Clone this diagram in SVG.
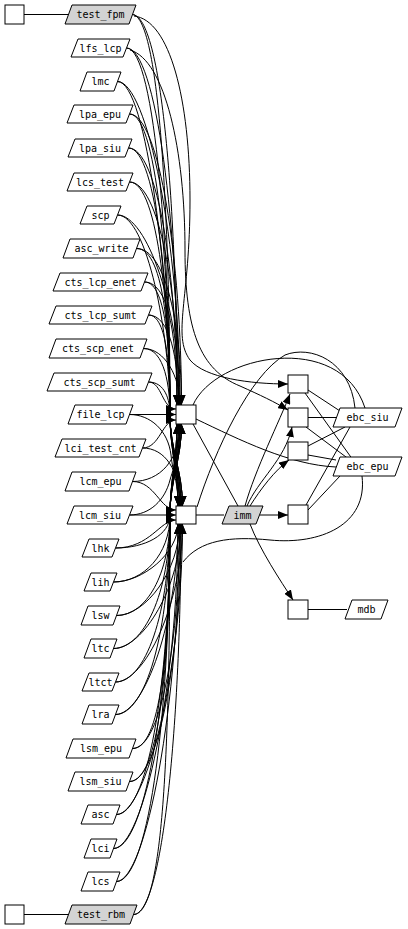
<svg xmlns="http://www.w3.org/2000/svg" width="408" height="929" viewBox="0 0 408 929">
<style>
.e{fill:none;stroke:#000;stroke-width:1}
.a{marker-end:url(#ah)}
.n{fill:#fff;stroke:#000;stroke-width:1}
.g{fill:#d3d3d3;stroke:#000;stroke-width:1}
text{font-family:"DejaVu Sans Mono","Liberation Mono",monospace;font-size:10px;text-anchor:middle;fill:#000}
</style>
<defs>
<marker id="ah" markerUnits="userSpaceOnUse" markerWidth="10" markerHeight="8" refX="10" refY="4" orient="auto">
<path d="M0,0 L10,4 L0,8 z" fill="#000"/>
</marker>
</defs>
<rect width="408" height="929" fill="#fff"/>
<g id="connectors">
<path class="e" d="M24,14.5 L68,14.5"/>
<path class="e" d="M24,914.5 L68,914.5"/>
<!-- to hub1 -->
<path class="e a" d="M132,14.5 C162,14.5 177,210 177,405"/>
<path class="e a" d="M126.5,48 C156,48 178.5,226 178.5,405"/>
<path class="e a" d="M117.5,81.5 C147,81.5 180,243 180,405"/>
<path class="e a" d="M129.5,114 C159,114 181.5,260 181.5,405"/>
<path class="e a" d="M128.5,148 C158,148 177,276 177,405"/>
<path class="e a" d="M129.5,182 C159,182 178.5,293 178.5,405"/>
<path class="e a" d="M117.5,215 C147,215 180,310 180,405"/>
<path class="e a" d="M136.5,248.5 C166,248.5 181.5,327 181.5,405"/>
<path class="e a" d="M144.5,282 C170,282 177,343 177,405"/>
<path class="e a" d="M148.5,315 C170,315 178.5,360 178.5,405"/>
<path class="e a" d="M143.5,348.5 C165,348.5 180,377 180,405"/>
<path class="e a" d="M148.5,382 C162,382 162,409 176,409"/>
<path class="e a" d="M129.5,414.5 L176,414.5"/>
<path class="e a" d="M142.5,448 C160,448 162,420 176,420"/>
<path class="e a" d="M132.5,481.5 C160,481.5 180,460 180,424"/>
<path class="e a" d="M129.5,515 C150,515 165,500 170,480 C175,462 181.5,452 181.5,424"/>
<path class="e a" d="M115.5,548 C145,548 170,535 170,515 C170,480 177,460 177,424"/>
<path class="e a" d="M113.5,582 C143,582 170,555 170,515 C170,480 178.5,460 178.5,424"/>
<path class="e a" d="M116.5,615.5 C146,615.5 170,575 170,515 C170,480 180,460 180,424"/>
<path class="e a" d="M113.5,648.5 C143,648.5 170,595 170,515 C170,480 181.5,460 181.5,424"/>
<path class="e a" d="M115.5,682 C145,682 170,615 170,515 C170,480 177,460 177,424"/>
<path class="e a" d="M115.5,714.5 C145,714.5 170,635 170,515 C170,480 178.5,460 178.5,424"/>
<path class="e a" d="M132.5,748.5 C160,748.5 170,655 170,515 C170,480 180,460 180,424"/>
<path class="e a" d="M129.5,781.5 C158,781.5 170,675 170,515 C170,480 181.5,460 181.5,424"/>
<path class="e a" d="M116.5,814.5 C146,814.5 170,695 170,515 C170,480 177,460 177,424"/>
<path class="e a" d="M113.5,848.5 C143,848.5 170,715 170,515 C170,480 178.5,460 178.5,424"/>
<path class="e a" d="M116.5,881.5 C146,881.5 170,735 170,515 C170,480 180,460 180,424"/>
<path class="e a" d="M133.5,914.5 C163,914.5 170,755 170,515 C170,480 181.5,460 181.5,424"/>
<!-- to hub2 -->
<path class="e a" d="M132,14.5 C162,14.5 170,255 170,414.5 C170,450 178,470 178,506"/>
<path class="e a" d="M126.5,48 C156,48 170,268 170,414.5 C170,450 179.5,470 179.5,506"/>
<path class="e a" d="M117.5,81.5 C147,81.5 170,281 170,414.5 C170,450 181,470 181,506"/>
<path class="e a" d="M129.5,114 C159,114 170,294 170,414.5 C170,450 182.5,470 182.5,506"/>
<path class="e a" d="M128.5,148 C158,148 170,308 170,414.5 C170,450 178,470 178,506"/>
<path class="e a" d="M129.5,182 C159,182 170,321 170,414.5 C170,450 179.5,470 179.5,506"/>
<path class="e a" d="M117.5,215 C147,215 170,334 170,414.5 C170,450 181,470 181,506"/>
<path class="e a" d="M136.5,248.5 C166,248.5 170,348 170,414.5 C170,450 182.5,470 182.5,506"/>
<path class="e a" d="M144.5,282 C168,282 170,361 170,414.5 C170,450 178,470 178,506"/>
<path class="e a" d="M148.5,315 C168,315 170,375 170,414.5 C170,450 179.5,470 179.5,506"/>
<path class="e a" d="M143.5,348.5 C165,348.5 170,388 170,414.5 C170,450 181,470 181,506"/>
<path class="e a" d="M148.5,382 C165,382 170,400 170,414.5 C170,450 182.5,470 182.5,506"/>
<path class="e a" d="M129.5,414.5 C150,414.5 168,430 171,455 C173,475 178,480 178,506"/>
<path class="e a" d="M142.5,448 C165,448 180,470 180,506"/>
<path class="e a" d="M132.5,481.5 C155,481.5 160,510 176,510"/>
<path class="e a" d="M129.5,515 L176,515"/>
<path class="e a" d="M115.5,548 C150,548 160,520 176,520"/>
<path class="e a" d="M113.5,582 C143,582 178,553 178,524"/>
<path class="e a" d="M116.5,615.5 C146,615.5 179.5,570 179.5,524"/>
<path class="e a" d="M113.5,648.5 C143,648.5 181,586 181,524"/>
<path class="e a" d="M115.5,682 C145,682 182.5,603 182.5,524"/>
<path class="e a" d="M115.5,714.5 C145,714.5 178,619 178,524"/>
<path class="e a" d="M132.5,748.5 C162,748.5 179.5,636 179.5,524"/>
<path class="e a" d="M129.5,781.5 C159,781.5 181,653 181,524"/>
<path class="e a" d="M116.5,814.5 C146,814.5 182.5,669 182.5,524"/>
<path class="e a" d="M113.5,848.5 C143,848.5 178,686 178,524"/>
<path class="e a" d="M116.5,881.5 C146,881.5 179.5,703 179.5,524"/>
<path class="e a" d="M133.5,914.5 C163,914.5 181,719 181,524"/>
<!-- right side -->
<path class="e a" d="M134,16 C170,20 190,100 190,200 C190,300 172,335 190,360 C205,378 250,384 288,384"/>
<path class="e a" d="M130,50 C165,60 185,150 185,250 C185,330 200,370 240,386 C260,395 275,402 288,410"/>
<path class="e" d="M193,405 C215,355 340,330 365,408"/>
<path class="e" d="M355,408 C350,360 310,345 285,355 C250,375 215,450 197,507"/>
<path class="e" d="M362,476 C368,525 320,545 270,540 C230,536 200,540 183,562"/>
<path class="e" d="M196,515 L224,515"/>
<path class="e" d="M193,424 L238,506"/>
<path class="e" d="M196,419 C240,440 290,465 336,467"/>
<path class="e a" d="M245,506 C255,470 280,420 290,394"/>
<path class="e a" d="M247,506 C258,480 285,460 292,427"/>
<path class="e a" d="M250,506 C260,490 275,470 289,460"/>
<path class="e a" d="M260,515 L288,515"/>
<path class="e a" d="M250,524 C260,550 280,580 293,600"/>
<path class="e" d="M308,390 L340,411"/>
<path class="e" d="M305,393 L353,460"/>
<path class="e" d="M308,417.5 L337,417.5"/>
<path class="e" d="M306,427 L350,460"/>
<path class="e" d="M308,446 L345,427"/>
<path class="e" d="M308,455 L336,460"/>
<path class="e" d="M306,505 L350,427"/>
<path class="e" d="M308,510 L340,476"/>
<path class="e" d="M308,609.5 L347,609.5"/>
</g>
<g id="sq_top"><rect class="n" x="5" y="5" width="19" height="19"/></g>
<g id="sq_bot"><rect class="n" x="5" y="905" width="19" height="19"/></g>
<g id="hub1"><rect class="n" x="176" y="405" width="20" height="19"/></g>
<g id="hub2"><rect class="n" x="176" y="506" width="20" height="18"/></g>
<g id="r1"><rect class="n" x="288" y="375" width="20" height="18"/></g>
<g id="r2"><rect class="n" x="288" y="408" width="20" height="19"/></g>
<g id="r3"><rect class="n" x="288" y="442" width="20" height="18"/></g>
<g id="r4"><rect class="n" x="288" y="505" width="20" height="19"/></g>
<g id="r5"><rect class="n" x="288" y="600" width="20" height="19"/></g>
<g id="test_fpm"><polygon class="g" points="72,5 136,5 129,24 65,24"/><text x="100.5" y="18">test_fpm</text></g>
<g id="lfs_lcp"><polygon class="n" points="78,39 130,39 123,57 71,57"/><text x="100.5" y="51.5">lfs_lcp</text></g>
<g id="lmc"><polygon class="n" points="87,72 121,72 114,91 80,91"/><text x="100.5" y="85">lmc</text></g>
<g id="lpa_epu"><polygon class="n" points="74,105 133,105 126,123 67,123"/><text x="100" y="117.5">lpa_epu</text></g>
<g id="lpa_siu"><polygon class="n" points="75,139 132,139 125,157 68,157"/><text x="100" y="151.5">lpa_siu</text></g>
<g id="lcs_test"><polygon class="n" points="74,173 133,173 126,191 67,191"/><text x="100" y="185.5">lcs_test</text></g>
<g id="scp"><polygon class="n" points="87,206 121,206 114,224 80,224"/><text x="100.5" y="218.5">scp</text></g>
<g id="asc_write"><polygon class="n" points="70,239 140,239 133,258 63,258"/><text x="101.5" y="252">asc_write</text></g>
<g id="cts_lcp_enet"><polygon class="n" points="60,273 148,273 141,291 53,291"/><text x="100.5" y="285.5">cts_lcp_enet</text></g>
<g id="cts_lcp_sumt"><polygon class="n" points="56,306 152,306 145,324 49,324"/><text x="100.5" y="318.5">cts_lcp_sumt</text></g>
<g id="cts_scp_enet"><polygon class="n" points="56,339 147,339 140,358 49,358"/><text x="98" y="352">cts_scp_enet</text></g>
<g id="cts_scp_sumt"><polygon class="n" points="54,373 152,373 145,391 47,391"/><text x="99.5" y="385.5">cts_scp_sumt</text></g>
<g id="file_lcp"><polygon class="n" points="75,405 133,405 126,424 68,424"/><text x="100.5" y="418">file_lcp</text></g>
<g id="lci_test_cnt"><polygon class="n" points="62,439 146,439 139,457 55,457"/><text x="100.5" y="451.5">lci_test_cnt</text></g>
<g id="lcm_epu"><polygon class="n" points="72,472 136,472 129,491 65,491"/><text x="100.5" y="485">lcm_epu</text></g>
<g id="lcm_siu"><polygon class="n" points="74,506 133,506 126,524 67,524"/><text x="100" y="518.5">lcm_siu</text></g>
<g id="lhk"><polygon class="n" points="89,539 119,539 112,557 82,557"/><text x="100.5" y="551.5">lhk</text></g>
<g id="lih"><polygon class="n" points="91,573 117,573 110,591 84,591"/><text x="100.5" y="585.5">lih</text></g>
<g id="lsw"><polygon class="n" points="88,606 120,606 113,625 81,625"/><text x="100.5" y="619">lsw</text></g>
<g id="ltc"><polygon class="n" points="91,639 117,639 110,658 84,658"/><text x="100.5" y="652">ltc</text></g>
<g id="ltct"><polygon class="n" points="89,673 119,673 112,691 82,691"/><text x="100.5" y="685.5">ltct</text></g>
<g id="lra"><polygon class="n" points="89,705 119,705 112,724 82,724"/><text x="100.5" y="718">lra</text></g>
<g id="lsm_epu"><polygon class="n" points="73,739 136,739 129,758 66,758"/><text x="101" y="752">lsm_epu</text></g>
<g id="lsm_siu"><polygon class="n" points="75,772 133,772 126,791 68,791"/><text x="100.5" y="785">lsm_siu</text></g>
<g id="asc"><polygon class="n" points="88,805 120,805 113,824 81,824"/><text x="100.5" y="818">asc</text></g>
<g id="lci"><polygon class="n" points="91,839 117,839 110,858 84,858"/><text x="100.5" y="852">lci</text></g>
<g id="lcs"><polygon class="n" points="88,872 120,872 113,891 81,891"/><text x="100.5" y="885">lcs</text></g>
<g id="test_rbm"><polygon class="g" points="72,905 137,905 130,924 65,924"/><text x="101" y="918">test_rbm</text></g>
<g id="imm"><polygon class="g" points="229,506 263,506 256,524 222,524"/><text x="242.5" y="518.5">imm</text></g>
<g id="ebc_siu"><polygon class="n" points="340,408 402,408 395,427 333,427"/><text x="367.5" y="421">ebc_siu</text></g>
<g id="ebc_epu"><polygon class="n" points="340,457 402,457 395,476 333,476"/><text x="367.5" y="470">ebc_epu</text></g>
<g id="mdb"><polygon class="n" points="352,600 388,600 381,619 345,619"/><text x="366.5" y="613">mdb</text></g>
</svg>
